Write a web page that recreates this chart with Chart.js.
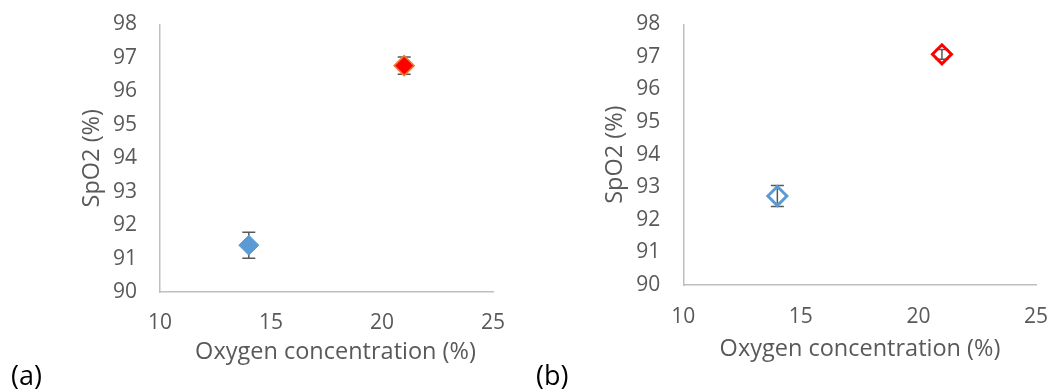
<!DOCTYPE html>
<html>
<head>
<meta charset="utf-8">
<script src="https://cdn.jsdelivr.net/npm/chart.js@4.4.1/dist/chart.umd.min.js"></script>
<style>
  html, body { margin: 0; padding: 0; background: #fff; }
  #wrap { position: relative; width: 1055px; height: 392px; }
  .panel { position: absolute; top: 0; }
  #panelA { left: 0; }
  #panelB { left: 530px; }
</style>
</head>
<body>
<div id="wrap">
  <div class="panel" id="panelA"><canvas id="chartA" width="530" height="392"></canvas></div>
  <div class="panel" id="panelB"><canvas id="chartB" width="525" height="392"></canvas></div>
</div>
<script>
// Oxygen concentration (%) for the two conditions
const oxygenLevels = [14, 21];

// Panel (a): mean SpO2 and error
const spo2A = [91.4, 96.77];
const errA = [0.39, 0.26];

// Panel (b): mean SpO2 and error
const spo2B = [92.73, 97.08];
const errB = [0.32, 0.15];

const xTickValues = [10, 15, 20, 25];
const yTickValues = [90, 91, 92, 93, 94, 95, 96, 97, 98];

const textColor = '#595959';
const fontFamily = "'Open Sans', 'Noto Sans', sans-serif";

// vertical error bars with caps, drawn under the markers
const errorBarPlugin = {
    id: 'errorBars',
    beforeDatasetsDraw(chart) {
        const { ctx, scales: { x, y } } = chart;
        ctx.save();
        ctx.strokeStyle = '#595959';
        ctx.lineWidth = 1.5;
        chart.data.datasets.forEach(ds => {
            ds.data.forEach((pt, i) => {
                const err = ds.errors[i];
                const px = x.getPixelForValue(pt.x);
                const top = y.getPixelForValue(pt.y + err);
                const bottom = y.getPixelForValue(pt.y - err);
                ctx.beginPath();
                ctx.moveTo(px, top);
                ctx.lineTo(px, bottom);
                ctx.moveTo(px - 6.5, top);
                ctx.lineTo(px + 6.5, top);
                ctx.moveTo(px - 6.5, bottom);
                ctx.lineTo(px + 6.5, bottom);
                ctx.stroke();
            });
        });
        ctx.restore();
    }
};

// x axis title and the "(a)" / "(b)" tag under each panel
const panelTextPlugin = {
    id: 'panelText',
    afterDraw(chart, args, opts) {
        const ctx = chart.ctx;
        ctx.save();
        ctx.textBaseline = 'middle';

        ctx.fillStyle = textColor;
        ctx.font = '23.5px ' + fontFamily;
        ctx.textAlign = 'center';
        ctx.fillText('Oxygen concentration (%)', opts.titleX, opts.titleY);

        ctx.fillStyle = '#000';
        ctx.font = '27px ' + fontFamily;
        ctx.textAlign = 'left';
        ctx.fillText(opts.label, opts.labelX, 377);
        ctx.restore();
    }
};

function makeChart(id, values, errors, hollow, box) {
    const blue = '#5B9BD5';
    const datasets = [
        {
            data: [{ x: oxygenLevels[0], y: values[0] }],
            errors: [errors[0]],
            pointStyle: 'rectRot',
            pointRadius: hollow ? 9.5 : 10,
            borderWidth: hollow ? 3 : 1,
            borderColor: blue,
            backgroundColor: hollow ? 'rgba(0,0,0,0)' : blue
        },
        {
            data: [{ x: oxygenLevels[1], y: values[1] }],
            errors: [errors[1]],
            pointStyle: 'rectRot',
            pointRadius: hollow ? 9.5 : 10,
            borderWidth: hollow ? 3 : 1.5,
            borderColor: hollow ? '#FF0000' : '#ED7D31',
            backgroundColor: hollow ? 'rgba(0,0,0,0)' : '#FF0000'
        }
    ];
    const tickFont = { family: fontFamily, size: 21, lineHeight: 1.2 };
    const titleFont = { family: fontFamily, size: 23.5, lineHeight: 1.2 };
    return new Chart(document.getElementById(id), {
        type: 'scatter',
        data: { datasets },
        plugins: [errorBarPlugin, panelTextPlugin],
        options: {
            responsive: false,
            animation: false,
            events: [],
            layout: { padding: { left: 0, top: box.top, right: box.right, bottom: 0 } },
            scales: {
                x: {
                    type: 'linear',
                    min: 10,
                    max: 25,
                    afterBuildTicks: s => { s.ticks = xTickValues.map(v => ({ value: v })); },
                    afterFit: s => {
                        s.height = box.xHeight;
                        s.paddingLeft = 0;
                        s.paddingRight = 0;
                    },
                    grid: { display: false, drawTicks: false },
                    border: { display: true, color: '#BFBFBF', width: 1.5 },
                    ticks: { color: textColor, padding: box.xTickPad, font: tickFont }
                },
                y: {
                    type: 'linear',
                    min: 90,
                    max: 98,
                    afterBuildTicks: s => { s.ticks = yTickValues.map(v => ({ value: v })); },
                    afterFit: s => {
                        s.width = box.yWidth;
                        s.paddingTop = 0;
                        s.paddingBottom = 0;
                    },
                    grid: { display: false, drawTicks: false },
                    border: { display: true, color: '#BFBFBF', width: 1.5 },
                    ticks: { color: textColor, padding: 23, font: tickFont },
                    title: {
                        display: true,
                        text: 'SpO2 (%)',
                        color: textColor,
                        padding: { top: box.yTitlePad, bottom: 0 },
                        font: titleFont
                    }
                }
            },
            plugins: {
                legend: { display: false },
                tooltip: { enabled: false },
                panelText: {
                    titleX: box.titleX, titleY: box.titleY,
                    label: box.label, labelX: box.labelX
                }
            }
        }
    });
}

const chartA = makeChart('chartA', spo2A, errA, false, {
    top: 24.5, right: 37, xHeight: 100, yWidth: 160,
    xTickPad: 18.4, yTitlePad: 77.9,
    titleX: 335.5, titleY: 352, label: '(a)', labelX: 11
});

const chartB = makeChart('chartB', spo2B, errB, true, {
    top: 24.3, right: 19, xHeight: 107, yWidth: 153.3,
    xTickPad: 19.4, yTitlePad: 70.9,
    titleX: 330, titleY: 349, label: '(b)', labelX: 6
});
</script>
</body>
</html>
